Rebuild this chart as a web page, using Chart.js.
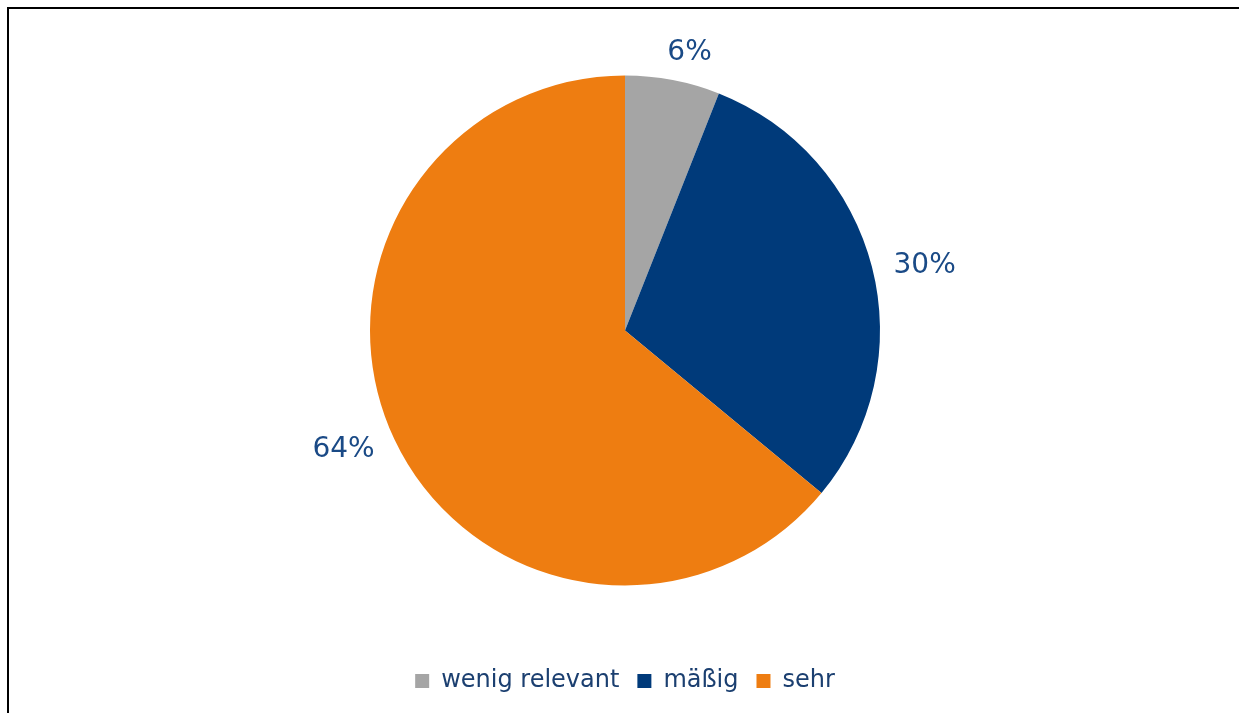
<!DOCTYPE html>
<html>
<head>
<meta charset="utf-8">
<script src="https://cdn.jsdelivr.net/npm/chart.js@4/dist/chart.umd.min.js"></script>
<style>
  html, body { margin: 0; padding: 0; background: #fff; overflow: hidden; }
  #frame { position: absolute; left: 7px; top: 7px; width: 1260px; height: 740px; border: 2px solid #000; box-sizing: border-box; }
  #wrap { position: absolute; left: 0; top: 0; width: 1239px; height: 713px; }
</style>
</head>
<body>
<div id="frame"></div>
<div id="wrap"><canvas id="pieChart"></canvas></div>
<script>
const categories = ['wenig relevant', 'mäßig', 'sehr'];
const shares = [6, 30, 64];
const sliceColors = ['#a5a5a5', '#003a7a', '#ee7d11'];
const textColor = '#1b3f70';

// percent labels just outside the rim, a bit clockwise like the original
const outsideLabels = {
  id: 'outsideLabels',
  afterDatasetsDraw(chart) {
    const meta = chart.getDatasetMeta(0);
    const { ctx } = chart;
    ctx.save();
    ctx.font = "28px 'DejaVu Sans', Verdana, sans-serif";
    ctx.fillStyle = '#1a4a86';
    ctx.textAlign = 'center';
    ctx.textBaseline = 'middle';
    meta.data.forEach((arc, i) => {
      const mid = (arc.startAngle + arc.endAngle) / 2 + 0.04;
      const txt = shares[i] + '%';
      const w = ctx.measureText(txt).width;
      const h = 10;
      const c = Math.cos(mid), s = Math.sin(mid);
      const r = arc.outerRadius + 20 + Math.abs(c) * w / 2 + Math.abs(s) * h / 2;
      ctx.fillText(txt, arc.x + c * r, arc.y + s * r);
    });
    ctx.restore();
  }
};

new Chart(document.getElementById('pieChart'), {
  type: 'pie',
  data: {
    labels: categories,
    datasets: [{
      data: shares,
      backgroundColor: sliceColors,
      borderWidth: 0,
      radius: 255
    }]
  },
  options: {
    responsive: true,
    maintainAspectRatio: false,
    animation: false,
    layout: { padding: { left: 11, top: 10, right: 0, bottom: 10 } },
    plugins: {
      legend: {
        position: 'bottom',
        labels: {
          color: textColor,
          boxWidth: 14,
          boxHeight: 14,
          padding: 18,
          font: { family: "'DejaVu Sans', Verdana, sans-serif", size: 24 }
        }
      },
      tooltip: { enabled: false }
    }
  },
  plugins: [outsideLabels]
});
</script>
</body>
</html>
